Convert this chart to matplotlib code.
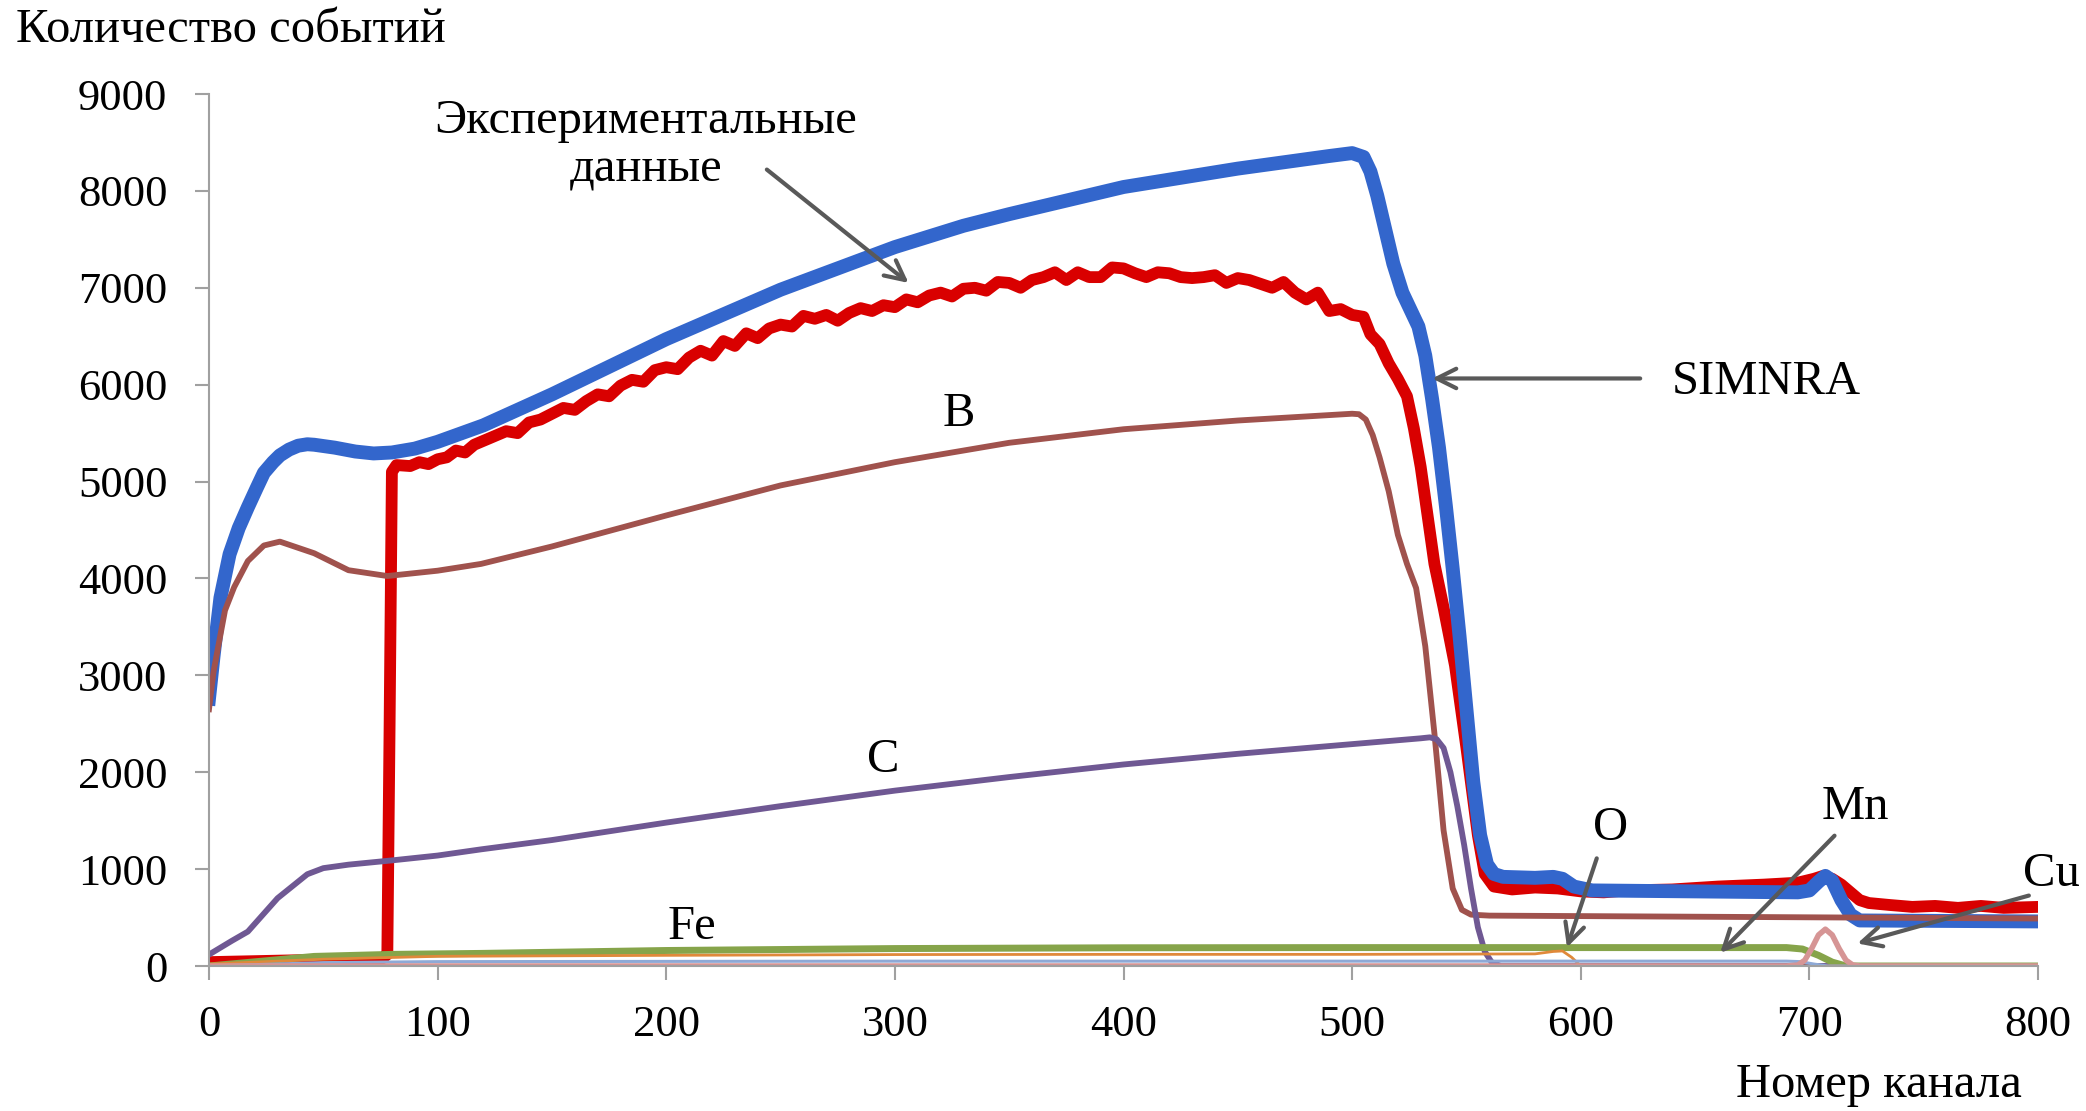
import matplotlib
matplotlib.use('Agg')
import matplotlib.pyplot as plt

# (channel, counts)
exp_points = [
    (0, 40), (20, 50), (40, 60), (60, 70), (76, 80), (78, 120), (79, 2500), (80, 5100), (82, 5170),
    (88, 5160), (92, 5200), (96, 5180), (100, 5230), (104, 5250), (108, 5320), (112, 5300),
    (116, 5380), (120, 5420), (125, 5470), (130, 5520), (135, 5500), (140, 5610), (145, 5640),
    (150, 5700), (155, 5760), (160, 5740), (165, 5830), (170, 5900), (175, 5880), (180, 5990),
    (185, 6050), (190, 6030), (195, 6150), (200, 6180), (205, 6160), (210, 6280), (215, 6350),
    (220, 6300), (225, 6450), (230, 6400), (235, 6530), (240, 6480), (245, 6580), (250, 6620),
    (255, 6600), (260, 6710), (265, 6680), (270, 6720), (275, 6660), (280, 6740), (285, 6790),
    (290, 6760), (295, 6820), (300, 6800), (305, 6880), (310, 6850), (315, 6920), (320, 6950),
    (325, 6910), (330, 6990), (335, 7000), (340, 6970), (345, 7060), (350, 7050), (355, 7000),
    (360, 7080), (365, 7110), (370, 7160), (375, 7080), (380, 7160), (385, 7110), (390, 7110),
    (395, 7210), (400, 7200), (405, 7150), (410, 7110), (415, 7160), (420, 7150), (425, 7110),
    (430, 7100), (435, 7110), (440, 7130), (445, 7050), (450, 7100), (455, 7080), (460, 7040),
    (465, 7000), (470, 7060), (475, 6950), (480, 6880), (485, 6950), (490, 6760), (495, 6780),
    (500, 6720), (505, 6700), (508, 6520), (512, 6420), (516, 6220), (520, 6060), (524, 5880),
    (527, 5550), (530, 5150), (533, 4650), (536, 4150), (540, 3700), (545, 3100), (550, 2250),
    (555, 1350), (558, 950), (562, 820), (570, 790), (580, 810), (590, 800), (600, 770),
    (610, 760), (620, 780), (640, 790), (660, 820), (680, 840), (695, 860), (702, 900),
    (706, 930), (710, 900), (714, 840), (718, 760), (722, 680), (726, 650), (735, 630),
    (745, 610), (755, 620), (765, 600), (775, 620), (785, 600), (800, 610),
]
exp_ch = [p[0] for p in exp_points]
exp_counts = [p[1] for p in exp_points]

sim_ch = [0, 2, 5, 9, 13, 17, 21, 24, 28, 31, 35, 39, 43, 46, 55, 64, 72, 80, 90, 100, 120, 150, 200,
          250, 300, 330, 350, 400, 450, 490, 500, 505, 508, 511, 514, 518, 522, 526, 529, 532, 535,
          538, 541, 544, 547, 550, 553, 556, 559, 562, 566, 580, 588, 592, 597, 605, 650, 695, 700,
          704, 707, 710, 714, 718, 722, 800]
sim_counts = [2760, 3200, 3800, 4250, 4520, 4735, 4940, 5090, 5200, 5270, 5330, 5370, 5385, 5380, 5350,
              5310, 5290, 5300, 5340, 5410, 5580, 5900, 6470, 6980, 7420, 7640, 7760, 8040, 8230,
              8360, 8390, 8350, 8200, 7950, 7650, 7250, 6950, 6750, 6600, 6300, 5850, 5350, 4750,
              4100, 3400, 2650, 1900, 1350, 1050, 950, 920, 910, 920, 900, 820, 780, 770, 760, 780,
              870, 930, 880, 680, 530, 470, 460]

b_ch = [0, 2, 7, 11, 17, 24, 31, 46, 61, 78, 100, 119, 150, 200, 250, 300, 350, 400, 450, 500, 503,
        506, 509, 512, 516, 520, 524, 528, 532, 536, 540, 544, 548, 552, 560, 800]
b_counts = [2650, 3040, 3670, 3910, 4180, 4340, 4380, 4260, 4085, 4025, 4080, 4150, 4330, 4650, 4960,
            5200, 5400, 5540, 5630, 5700, 5695, 5640, 5480, 5250, 4900, 4450, 4150, 3900, 3300, 2400,
            1400, 800, 580, 530, 520, 490]

c_ch = [0, 10, 17, 30, 43, 50, 61, 80, 100, 119, 150, 200, 250, 300, 350, 400, 450, 500, 530, 534,
        537, 540, 543, 546, 549, 552, 555, 558, 561, 565, 800]
c_counts = [118, 260, 355, 700, 947, 1010, 1046, 1090, 1140, 1204, 1300, 1480, 1650, 1810, 1950, 2080,
            2190, 2290, 2350, 2360, 2340, 2250, 2000, 1650, 1250, 800, 400, 150, 40, 0, 0]

fe_ch = [0, 46, 80, 119, 200, 300, 400, 500, 690, 697, 704, 710, 716, 800]
fe_counts = [0, 99, 120, 130, 160, 180, 188, 190, 190, 175, 110, 40, 0, 0]

o_ch = [0, 50, 100, 200, 300, 400, 500, 580, 588, 592, 596, 600, 800]
o_counts = [20, 70, 100, 110, 118, 120, 120, 125, 150, 155, 90, 0, 0]

mn_ch = [0, 50, 100, 300, 500, 690, 696, 702, 708, 800]
mn_counts = [0, 35, 45, 50, 50, 50, 45, 20, 0, 0]

cu_ch = [0, 690, 695, 698, 701, 704, 707, 710, 713, 716, 719, 722, 800]
cu_counts = [0, 0, 10, 60, 180, 320, 380, 320, 180, 60, 10, 0, 0]

x_ticks = list(range(0, 801, 100))
y_ticks = list(range(0, 9001, 1000))

plt.rcParams['font.family'] = ['Liberation Serif', 'DejaVu Serif']

fig = plt.figure(figsize=(20.86, 11.11), dpi=100)
ax = fig.add_axes([209 / 2086, 1 - 966 / 1111, (2038 - 209) / 2086, (966 - 94) / 1111])

ax.plot(exp_ch, exp_counts, color='#D90000', lw=8.5, solid_joinstyle='round', solid_capstyle='round')
ax.plot(sim_ch, sim_counts, color='#3366CC', lw=10, solid_joinstyle='round')
ax.plot(b_ch, b_counts, color='#A0524D', lw=4.2, solid_joinstyle='round')
ax.plot(c_ch, c_counts, color='#6F5893', lw=4.2, solid_joinstyle='round')
ax.plot(fe_ch, fe_counts, color='#86A44A', lw=5, solid_joinstyle='round')
ax.plot(o_ch, o_counts, color='#E0893A', lw=2)
ax.plot(mn_ch, mn_counts, color='#8EA9D6', lw=2.2)
ax.plot(cu_ch, cu_counts, color='#D69595', lw=4, solid_joinstyle='round')

ax.set_xlim(0, 800)
ax.set_ylim(0, 9000)
ax.set_xticks(x_ticks)
ax.set_yticks(y_ticks)
for s in ['top', 'right']:
    ax.spines[s].set_visible(False)
for s in ['left', 'bottom']:
    ax.spines[s].set_color('#A0A0A0')
    ax.spines[s].set_linewidth(1.5)
ax.tick_params(axis='both', colors='#A0A0A0', width=1.5, length=10, labelsize=32, labelcolor='black')
ax.tick_params(axis='y', pad=20)
ax.tick_params(axis='x', pad=18)

fig.text(16 / 2086, 1 - 42 / 1111, 'Количество событий', fontsize=35, va='baseline', ha='left')
fig.text(2022 / 2086, 1 - 1097 / 1111, 'Номер канала', fontsize=35, va='baseline', ha='right')

arrow = dict(arrowstyle='->', color='#595959', lw=3, mutation_scale=35, shrinkA=0, shrinkB=0)
ax.text(191, 8472, 'Экспериментальные\nданные', fontsize=35, ha='center', va='center',
        linespacing=1.15)
ax.annotate('', xy=(306, 7050), xytext=(244, 8220), arrowprops=arrow)
ax.text(640, 6023, 'SIMNRA', fontsize=35, ha='left', va='center')
ax.annotate('', xy=(535, 6064), xytext=(626, 6064), arrowprops=arrow)
ax.text(328, 5694, 'B', fontsize=35, ha='center', va='center')
ax.text(295, 2127, 'C', fontsize=35, ha='center', va='center')
ax.text(211, 398, 'Fe', fontsize=35, ha='center', va='center')
ax.text(613, 1427, 'O', fontsize=35, ha='center', va='center')
ax.annotate('', xy=(594, 192), xytext=(607, 1111), arrowprops=arrow)
ax.text(720, 1646, 'Mn', fontsize=35, ha='center', va='center')
ax.annotate('', xy=(661, 137), xytext=(711, 1345), arrowprops=arrow)
ax.text(806, 947, 'Cu', fontsize=35, ha='center', va='center', clip_on=False)
ax.annotate('', xy=(721, 233), xytext=(796, 727), arrowprops=arrow, annotation_clip=False)

fig.savefig('out.png', dpi=100)
